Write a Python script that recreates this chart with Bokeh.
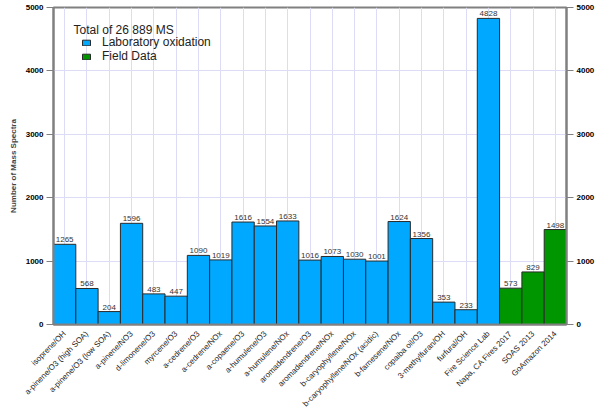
import math
from bokeh.plotting import figure
from bokeh.models import (ColumnDataSource, FactorRange, Range1d, LinearAxis,
                          SingleIntervalTicker, Legend, LegendItem, Label)
from bokeh.core.properties import value
from bokeh.embed import file_html
from bokeh.resources import INLINE

# data
samples = [
    "isoprene/OH", "a-pinene/O3 (high SOA)", "a-pinene/O3 (low SOA)", "a-pinene/NO3",
    "d-limonene/O3", "myrcene/O3", "a-cedrene/O3", "a-cedrene/NOx", "a-copaene/O3",
    "a-humulene/O3", "a-humulene/NOx", "aromadendrene/O3", "aromadendrene/NOx",
    "b-caryophyllene/NOx", "b-caryophyllene/NOx (acidic)", "b-farnesene/NOx",
    "copaiba oil/O3", "3-methylfuran/OH", "furfural/OH", "Fire Science Lab",
    "Napa, CA Fires 2017", "SOAS 2013", "GoAmazon 2014",
]
counts = [1265, 568, 204, 1596, 483, 447, 1090, 1019, 1616, 1554, 1633, 1016, 1073,
          1030, 1001, 1624, 1356, 353, 233, 4828, 573, 829, 1498]
kind = ["lab"] * 20 + ["field"] * 3
total_text = "Total of 26 889 MS"

colors = {"lab": "#00a9ff", "field": "#009600"}
FONT = "Liberation Sans"

src = ColumnDataSource(data=dict(x=samples, top=counts, label=[str(c) for c in counts]))

p = figure(x_range=FactorRange(*samples), y_range=Range1d(0, 5000),
           width=600, height=414, output_backend="svg", toolbar_location=None,
           min_border_left=53, min_border_right=34, min_border_top=7, min_border_bottom=87)

p.outline_line_color = "#808080"
p.outline_line_width = 2

# bars, split by type so the legend gets one entry each
renderers = {}
for k in ["lab", "field"]:
    idx = [i for i, kk in enumerate(kind) if kk == k]
    s = ColumnDataSource(data=dict(x=[samples[i] for i in idx], top=[counts[i] for i in idx]))
    renderers[k] = p.vbar(x="x", top="top", width=1.0, source=s, fill_color=colors[k],
                          line_color="#2a2a2a", line_width=1)

p.text(x="x", y="top", text="label", source=src, text_align="center",
       text_baseline="bottom", y_offset=-2, text_font=value(FONT),
       text_font_size="8px", text_color="#333333")

# grid
p.xgrid.grid_line_color = "#dcdcf6"
p.ygrid.grid_line_color = "#dcdcf6"
p.ygrid.ticker = SingleIntervalTicker(interval=1000)

# x axis
xa = p.xaxis[0]
xa.major_label_orientation = math.pi / 4
xa.major_tick_line_color = None
xa.axis_line_color = "#808080"
xa.axis_line_width = 2
xa.major_label_text_font = FONT
xa.major_label_text_font_size = "8px"
xa.major_label_text_color = "#222222"
xa.major_label_standoff = 2

# y axes
def style_y(ax):
    ax.ticker = SingleIntervalTicker(interval=1000)
    ax.minor_tick_line_color = None
    ax.major_tick_out = 7
    ax.major_tick_in = 0
    ax.major_tick_line_color = "#808080"
    ax.major_tick_line_width = 1
    ax.axis_line_color = "#808080"
    ax.axis_line_width = 2
    ax.major_label_text_font = FONT
    ax.major_label_text_font_size = "8px"
    ax.major_label_text_font_style = "bold"
    ax.major_label_text_color = "#000000"
    ax.major_label_standoff = 3

ya = p.yaxis[0]
style_y(ya)
ya.axis_label = "Number of Mass Spectra"
ya.axis_label_text_font = FONT
ya.axis_label_text_font_size = "8px"
ya.axis_label_text_font_style = "bold"
ya.axis_label_standoff = 5

yr = LinearAxis()
style_y(yr)
p.add_layout(yr, "right")

# legend
legend = Legend(items=[
    LegendItem(label="Laboratory oxidation", renderers=[renderers["lab"]]),
    LegendItem(label="Field Data", renderers=[renderers["field"]]),
], location="top_left")
legend.margin = 28
legend.padding = 0
legend.spacing = 0
legend.border_line_color = None
legend.background_fill_alpha = 0
legend.glyph_width = 10
legend.glyph_height = 7
legend.label_height = 12
legend.label_standoff = 11
legend.label_text_font = FONT
legend.label_text_font_size = "12px"
legend.label_text_color = "#222222"
p.add_layout(legend, "center")

p.add_layout(Label(x=0.9, y=4760, text=total_text, text_font=FONT,
                   text_font_size="12px", text_color="#222222",
                   text_baseline="top"))

open("out.html", "w").write(file_html(p, INLINE))
